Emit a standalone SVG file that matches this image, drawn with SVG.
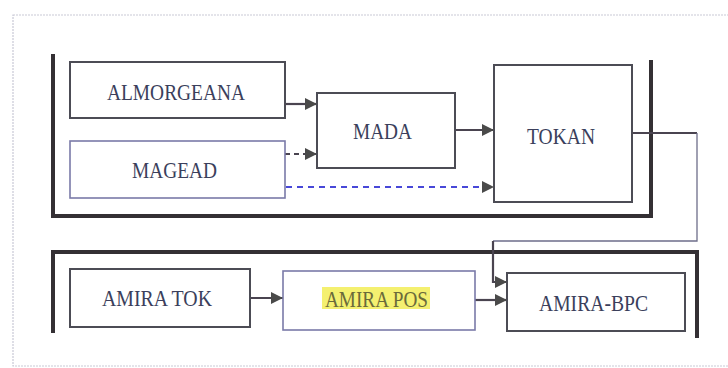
<svg xmlns="http://www.w3.org/2000/svg" width="728" height="368" viewBox="0 0 728 368">
<defs>
<marker id="ah" viewBox="0 0 10 10" refX="10" refY="5" markerWidth="12" markerHeight="12" markerUnits="userSpaceOnUse" orient="auto">
<path d="M0,0 L10,5 L0,10 Z" fill="#4a4a4a"/>
</marker>
</defs>
<style>
.box{fill:#fff;stroke:#4c4c55;stroke-width:2}
.boxb{fill:#fff;stroke:#7a7aa8;stroke-width:1.6}
.t{font-family:"Liberation Serif","Times New Roman",serif;font-size:23px;fill:#3b3f5c}
.brk{fill:none;stroke:#343034;stroke-width:4}
.c{fill:none;stroke:#4a4450;stroke-width:2.2}
.cl{fill:none;stroke:#6e6e8a;stroke-width:1.3}
</style>
<rect width="728" height="368" fill="#fff"/>
<rect x="13" y="15" width="722" height="351" fill="none" stroke="#c9c9d6" stroke-width="1.2" stroke-dasharray="2 1"/>
<g id="group-top">
<path class="brk" d="M53,54 V216 H651 V60"/>
</g>
<g id="group-bottom">
<path class="brk" d="M53,333 V252 H697 V338"/>
</g>
<g id="connectors">
<line class="c" x1="285" y1="104" x2="317" y2="104" marker-end="url(#ah)"/>
<line class="c" x1="285" y1="154" x2="317" y2="154" stroke-dasharray="5 4" marker-end="url(#ah)"/>
<line class="c" x1="455" y1="130" x2="494" y2="130" marker-end="url(#ah)"/>
<line x1="286" y1="187" x2="494" y2="187" stroke="#4848d8" stroke-width="2.2" stroke-dasharray="6 5" marker-end="url(#ah)"/>
<path class="c" d="M632,133 H697"/>
<path class="cl" d="M697,133 V241 H493"/>
<path class="c" d="M493,241 V282 H507" marker-end="url(#ah)"/>
<line class="c" x1="250" y1="298" x2="283" y2="298" marker-end="url(#ah)"/>
<line class="c" x1="475" y1="300" x2="507" y2="300" marker-end="url(#ah)"/>
</g>
<g id="almorgeana">
<rect class="box" x="70" y="62" width="215" height="56"/>
<text class="t" x="107" y="100" textLength="138" lengthAdjust="spacingAndGlyphs">ALMORGEANA</text>
</g>
<g id="magead">
<rect class="boxb" x="70" y="141" width="215" height="57"/>
<text class="t" x="132" y="178" textLength="85" lengthAdjust="spacingAndGlyphs">MAGEAD</text>
</g>
<g id="mada">
<rect class="box" x="317" y="93" width="138" height="75"/>
<text class="t" x="353" y="139" textLength="59" lengthAdjust="spacingAndGlyphs">MADA</text>
</g>
<g id="tokan">
<rect class="box" x="494" y="65" width="138" height="137"/>
<text class="t" x="527" y="144" textLength="68" lengthAdjust="spacingAndGlyphs">TOKAN</text>
</g>
<g id="amira-tok">
<rect class="box" x="70" y="269" width="180" height="58"/>
<text class="t" x="102" y="306" textLength="110" lengthAdjust="spacingAndGlyphs">AMIRA TOK</text>
</g>
<g id="amira-pos">
<rect class="boxb" x="283" y="271" width="192" height="59"/>
<rect x="322" y="287" width="108" height="22" fill="#f4f070"/>
<text class="t" x="325" y="307" textLength="103" lengthAdjust="spacingAndGlyphs" style="fill:#6a6a3a">AMIRA POS</text>
</g>
<g id="amira-bpc">
<rect class="box" x="507" y="273" width="178" height="58"/>
<text class="t" x="539" y="311" textLength="109" lengthAdjust="spacingAndGlyphs">AMIRA-BPC</text>
</g>
</svg>
